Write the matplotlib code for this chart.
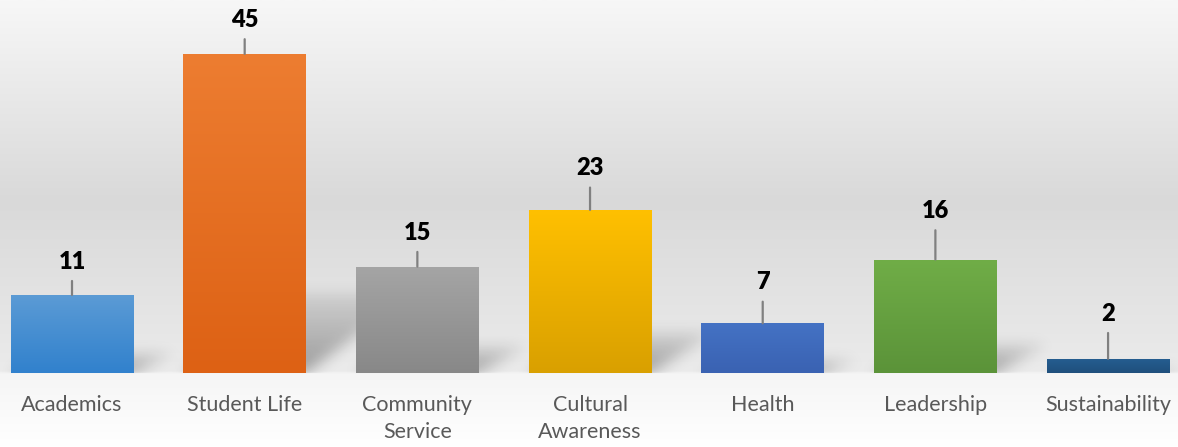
import numpy as np
import matplotlib
matplotlib.use("Agg")
import matplotlib.pyplot as plt
from matplotlib.colors import LinearSegmentedColormap, to_rgb

categories = ["Academics", "Student Life", "Community\nService", "Cultural\nAwareness",
              "Health", "Leadership", "Sustainability"]
values = [11, 45, 15, 23, 7, 16, 2]
top_colors = ["#5b9bd5", "#ed7d31", "#a5a5a5", "#ffc000", "#4472c4", "#70ad47", "#255e91"]
bottom_colors = ["#3181cd", "#dd6114", "#888888", "#d9a000", "#3a62b2", "#5b9339", "#1f4f7c"]
label_lift = [24, 24.5, 24.5, 30, 29.5, 35, 32.5]  # points above bar top

W, H = 1178, 447
fig = plt.figure(figsize=(W / 100, H / 100), dpi=100)
ax = fig.add_axes([0, 0, 1, 1])
x = np.arange(len(values))
x0, x1 = -0.417, 6.405
y0, y1 = -10.44, 52.6
ax.set_xlim(x0, x1)
ax.set_ylim(y0, y1)

# background: light at top, grey mid, near white below the baseline
bg = LinearSegmentedColormap.from_list("bg", [
    (0.0, "#f7f7f7"), (0.45, "#d9d9d9"), (0.833, "#ebebeb"),
    (0.836, "#f5f5f5"), (1.0, "#ffffff")])
ax.imshow(np.linspace(0, 1, 256)[:, None], cmap=bg, aspect="auto",
          extent=(x0, x1, y0, y1), zorder=0, interpolation="bilinear")

# soft cast shadows to the lower right of each bar
gx = np.linspace(x0, x1, W)
gy = np.linspace(y1, y0, H)
XX, YY = np.meshgrid(gx, gy)
width = 0.712
shade = np.zeros((H, W))
for xi, v in zip(x, values):
    dy = 0.25 * v
    dx = 0.011 * v + 0.12
    t = np.clip(YY / dy, 0, None)
    inside = (YY >= 0) & (YY <= dy) & (XX >= xi - width / 2 + t * dx) & (XX <= xi + width / 2 + t * dx)
    shade = np.maximum(shade, inside * (1 - 0.75 * t))
k = np.exp(-0.5 * (np.arange(-21, 22) / 7.0) ** 2)
k /= k.sum()
shade = np.apply_along_axis(lambda r: np.convolve(r, k, mode="same"), 1, shade)
shade = np.apply_along_axis(lambda c: np.convolve(c, k, mode="same"), 0, shade)
shade[YY < 0] = 0
rgba = np.zeros((H, W, 4))
rgba[..., 3] = 0.34 * shade
ax.imshow(rgba, aspect="auto", extent=(x0, x1, y0, y1), zorder=1, interpolation="bilinear")

# bars with vertical gradient
bars = ax.bar(x, values, width=width, color="none", zorder=2)
for b, v, c_top, c_bot in zip(bars, values, top_colors, bottom_colors):
    cm = LinearSegmentedColormap.from_list("g", [to_rgb(c_bot), to_rgb(c_top)])
    im = ax.imshow(np.linspace(0, 1, 128)[:, None][::-1], cmap=cm, aspect="auto",
                   extent=(b.get_x(), b.get_x() + b.get_width(), 0, v), zorder=3)
    im.set_clip_path(b)

for xi, v, lift in zip(x, values, label_lift):
    ax.annotate(str(v), xy=(xi, v), xytext=(0, lift), textcoords="offset points",
                ha="center", va="center", fontsize=17, fontweight="heavy",
                family="Lato", color="#000000", zorder=4,
                arrowprops=dict(arrowstyle="-", color="#808080", lw=1.6,
                                shrinkA=4, shrinkB=0))

for xi, cat in zip(x, categories):
    ax.annotate(cat, xy=(xi, 0), xytext=(0, -16), textcoords="offset points",
                ha="center", va="top", fontsize=15.5, family="Lato",
                color="#595959", linespacing=1.45)

ax.set_xticks([])
ax.set_yticks([])
for s in ax.spines.values():
    s.set_visible(False)
ax.set_xlim(x0, x1)
ax.set_ylim(y0, y1)

fig.savefig("out.png", dpi=100)
